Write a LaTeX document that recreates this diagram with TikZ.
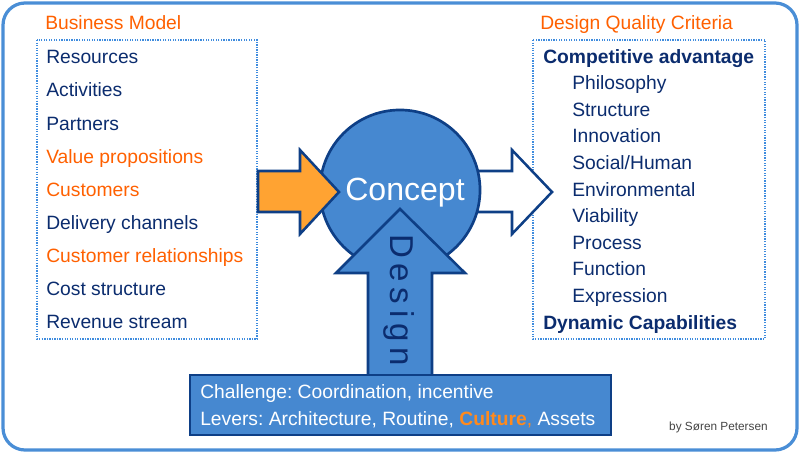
\documentclass[tikz,border=0pt]{standalone}
\usepackage{fontspec}
\setmainfont{Liberation Sans}
\usetikzlibrary{positioning}
\definecolor{frameblue}{HTML}{4A8ED6}
\definecolor{fillblue}{HTML}{4688D0}
\definecolor{edgeblue}{HTML}{0E3F86}
\definecolor{navy}{HTML}{0B2C6E}
\definecolor{hdorange}{HTML}{FF6000}
\definecolor{arrorange}{HTML}{FFA332}
\definecolor{dotblue}{HTML}{3F8CDE}
\definecolor{cultorange}{HTML}{FF8A1E}
\definecolor{credit}{HTML}{444444}
\frenchspacing

\begin{document}
\begin{tikzpicture}[
    x=0.025cm, y=-0.025cm,
    every node/.style={inner sep=0pt},
    txt/.style={anchor=base west, font=\fontsize{13.7}{16}\selectfont, text=navy},
    hd/.style={txt, text=hdorange},
    bold/.style={txt, font=\fontsize{13.7}{16}\selectfont\bfseries},
    wtxt/.style={txt, text=white},
    dotbox/.style={draw=dotblue, line width=1.9pt, dash pattern=on 0.9pt off 0.9pt},
    blk/.style={draw=edgeblue, line width=1.8pt, line join=miter},
    frame/.style={draw=frameblue, line width=2.3pt, rounded corners=0.55cm},
  ]
  \useasboundingbox (0,0) rectangle (800,453);
  \draw[frame] (3,3) rectangle (797,450);

  % business model
  \node[hd] (bmhd) at (45,30) {Business Model};
  \draw[dotbox] (37,40) rectangle (257,339);
  \node[txt] (res) at (46,64) {Resources};
  \node[txt] (act) at (46,97) {Activities};
  \node[txt] (par) at (46,130) {Partners};
  \node[hd] (val) at (46,163) {Value propositions};
  \node[hd] (cus) at (46,196) {Customers};
  \node[txt] (del) at (46,229) {Delivery channels};
  \node[hd] (rel) at (46,262) {Customer relationships};
  \node[txt] (cst) at (46,295) {Cost structure};
  \node[txt] (rev) at (46,328) {Revenue stream};

  % design quality criteria
  \node[hd] (dqhd) at (540,30) {Design Quality Criteria};
  \draw[dotbox] (533,40) rectangle (765,339);
  \node[bold] (comp) at (543,63) {Competitive advantage};
  \node[txt] (phi) at (572,89.6) {Philosophy};
  \node[txt] (str) at (572,116.2) {Structure};
  \node[txt] (inn) at (572,142.8) {Innovation};
  \node[txt] (soc) at (572,169.4) {Social/Human};
  \node[txt] (env) at (572,196) {Environmental};
  \node[txt] (via) at (572,222.6) {Viability};
  \node[txt] (pro) at (572,249.2) {Process};
  \node[txt] (fun) at (572,275.8) {Function};
  \node[txt] (exp) at (572,302.4) {Expression};
  \node[bold] (dyn) at (543,329) {Dynamic Capabilities};

  % concept and block arrows
  \draw[blk, fill=white] (470,171) -- (512,171) -- (512,150) -- (552,192)
    -- (512,234) -- (512,212) -- (470,212) -- cycle;
  \node[circle, draw=edgeblue, line width=1.9pt, fill=fillblue,
        minimum size=4cm] (concept) at (400,190) {};
  \draw[blk, fill=arrorange] (258,171) -- (300,171) -- (300,150) -- (339,192)
    -- (300,234) -- (300,212) -- (258,212) -- cycle;
  \draw[blk, fill=fillblue] (368,376) -- (368,273) -- (336,273) -- (400,209)
    -- (465,273) -- (432,273) -- (432,376) -- cycle;
  \node[anchor=base, text=white, font=\fontsize{22.8}{26}\selectfont]
    (conc) at (405,200) {Concept};
  \node[rotate=-90, text=navy, font=\fontsize{23.5}{26}\selectfont]
    (des) at (399,300) {D\kern.17em e\kern.17em s\kern.17em i\kern.17em g\kern.17em n};

  % challenge box
  \draw[blk, fill=fillblue] (190,375) rectangle (611,435);
  \node[wtxt] (chal) at (200,398) {Challenge: Coordination, incentive};
  \node[wtxt] (lev) at (200,425) {Levers: Architecture, Routine,
    {\color{cultorange}\bfseries Culture}{\color{cultorange},} Assets};

  \node[anchor=base east, text=credit, font=\fontsize{8.4}{10}\selectfont]
    (by) at (768,430) {by Søren Petersen};
\end{tikzpicture}
\end{document}
